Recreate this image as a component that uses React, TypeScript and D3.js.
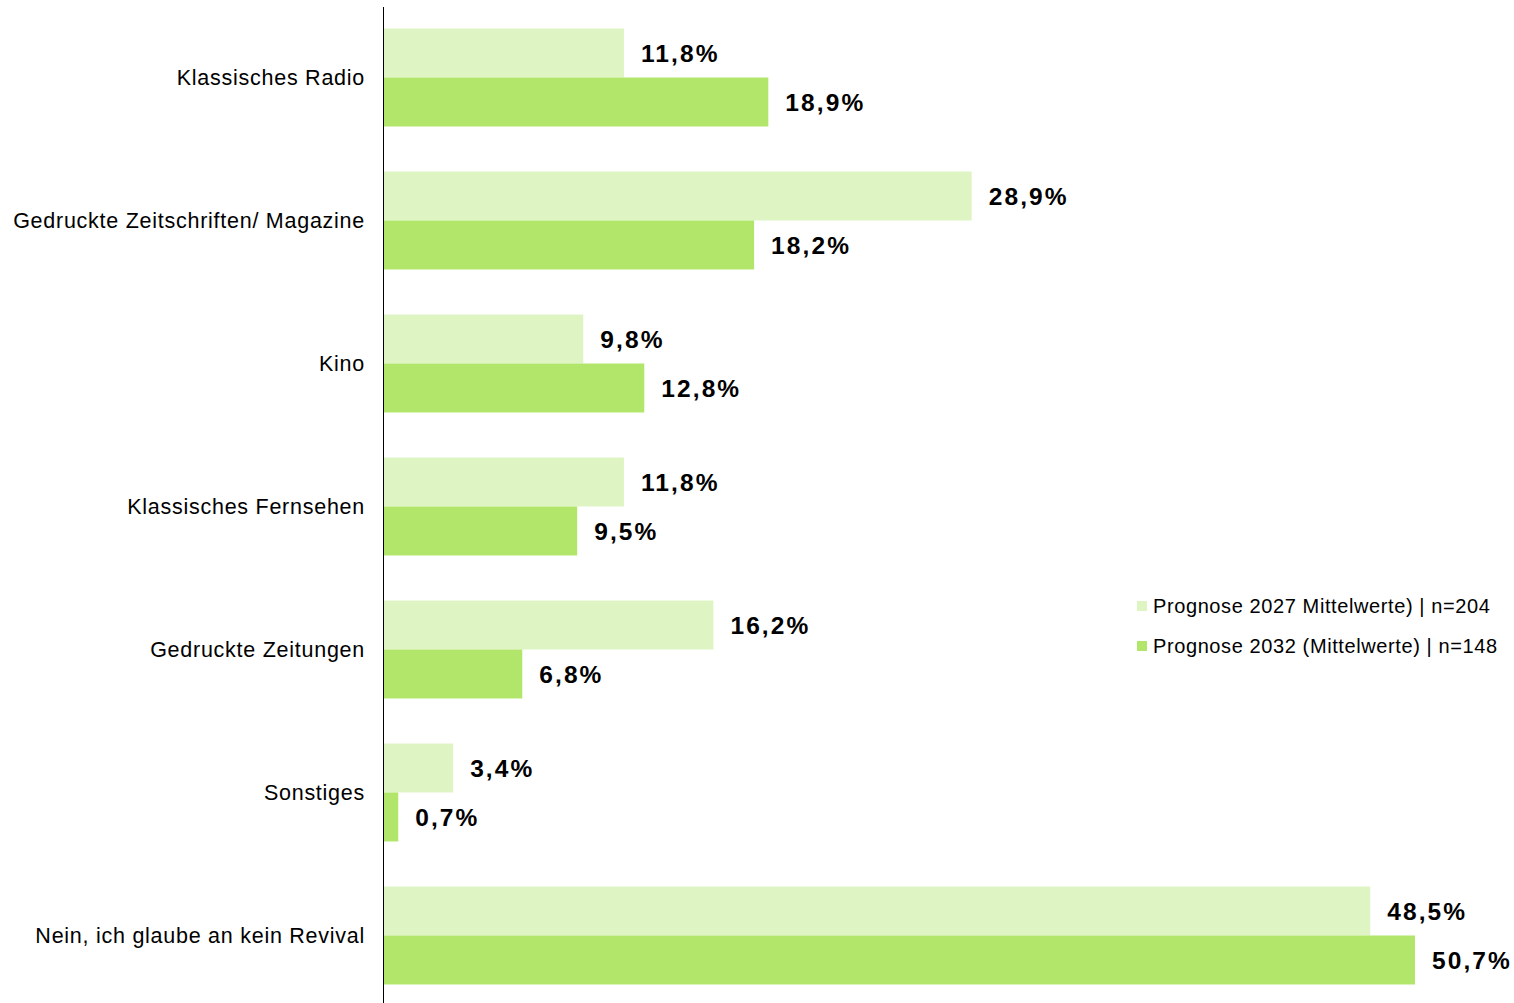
import React from "react";
import * as d3 from "d3";

const categories = [
  "Klassisches Radio",
  "Gedruckte Zeitschriften/ Magazine",
  "Kino",
  "Klassisches Fernsehen",
  "Gedruckte Zeitungen",
  "Sonstiges",
  "Nein, ich glaube an kein Revival",
];
const series2027 = [11.8, 28.9, 9.8, 11.8, 16.2, 3.4, 48.5];
const series2032 = [18.9, 18.2, 12.8, 9.5, 6.8, 0.7, 50.7];
const seriesNames = [
  "Prognose 2027 Mittelwerte) | n=204",
  "Prognose 2032 (Mittelwerte) | n=148",
];
const seriesKeys = ["s2027", "s2032"];
const colors = ["#def5c3", "#b2e66a"];

const W = 1514;
const H = 1003;

export default function App() {
  const x = d3.scaleLinear().domain([0, 50.7]).range([384, 1415]);
  const y = d3
    .scaleBand<string>()
    .domain(categories)
    .range([6, 1007])
    .paddingInner(0.315)
    .paddingOuter(0.1575);
  const inner = d3
    .scaleBand<string>()
    .domain(seriesKeys)
    .range([0, y.bandwidth()]);
  const data = [series2027, series2032];
  const fmt = (v: number) => v.toFixed(1).replace(".", ",") + "%";
  const font = "'Liberation Sans', Arial, sans-serif";

  return (
    <div style={{ position: "absolute", left: 0, top: 0 }}>
      <svg width={W} height={H} style={{ display: "block" }}>
        <rect width={W} height={H} fill="#ffffff" />
        {categories.map((c, i) => (
          <g key={c}>
            {seriesKeys.map((k, s) => {
              const v = data[s][i];
              const y0 = (y(c) as number) + (inner(k) as number);
              return (
                <g key={k}>
                  <rect
                    x={x(0)}
                    y={y0}
                    width={x(v) - x(0)}
                    height={inner.bandwidth()}
                    fill={colors[s]}
                  />
                  <text
                    x={x(v) + 17}
                    y={y0 + inner.bandwidth() / 2}
                    dy="0.35em"
                    fontFamily={font}
                    fontWeight="bold"
                    fontSize={24.5}
                    letterSpacing={2.1}
                    fill="#000"
                  >
                    {fmt(v)}
                  </text>
                </g>
              );
            })}
            <text
              x={365}
              y={(y(c) as number) + y.bandwidth() / 2}
              dy="0.35em"
              textAnchor="end"
              fontFamily={font}
              fontSize={21.5}
              letterSpacing={0.74}
              fill="#000"
            >
              {c}
            </text>
          </g>
        ))}
        <line x1={383.5} x2={383.5} y1={7} y2={H} stroke="#000" strokeWidth={1} />
        {seriesNames.map((n, s) => (
          <g key={n} transform={`translate(1137, ${606 + s * 40})`}>
            <rect x={0} y={-5} width={10} height={10} fill={colors[s]} />
            <text
              x={16}
              y={0}
              dy="0.35em"
              fontFamily={font}
              fontSize={20}
              letterSpacing={0.6}
              fill="#000"
            >
              {n}
            </text>
          </g>
        ))}
      </svg>
    </div>
  );
}
